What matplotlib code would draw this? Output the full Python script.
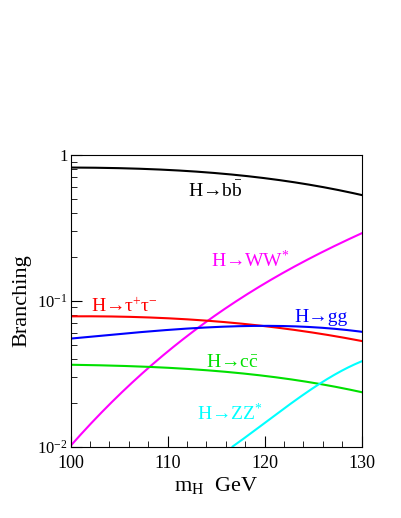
import matplotlib
matplotlib.use("Agg")
import matplotlib.pyplot as plt
import numpy as np

plt.rcParams['font.family'] = ['Liberation Serif', 'DejaVu Serif']
plt.rcParams['mathtext.fontset'] = 'custom'
plt.rcParams['mathtext.rm'] = 'Liberation Serif'
plt.rcParams['mathtext.it'] = 'Liberation Serif:italic'

bb_x = [100, 105, 110, 115, 120, 125, 130]
bb_y = [0.819, 0.81, 0.79, 0.75, 0.69, 0.62, 0.53]
ww_x = [100, 104, 108.3, 114, 120, 125, 130]
ww_y = [0.010, 0.020, 0.035, 0.072, 0.132, 0.20, 0.29]
tt_x = [100, 105, 110, 114, 120, 125, 130]
tt_y = [0.078, 0.0778, 0.0767, 0.072, 0.0667, 0.061, 0.0527]
gg_x = [100, 105, 110, 115, 120, 125, 130]
gg_y = [0.055, 0.059, 0.063, 0.066, 0.0675, 0.0655, 0.0613]
cc_x = [100, 105, 110, 115, 120, 125, 130]
cc_y = [0.0364, 0.0357, 0.0347, 0.0330, 0.0305, 0.0273, 0.0236]
zz_x = [116.7, 120, 125, 130]
zz_y = [0.010, 0.0145, 0.0252, 0.0384]

fig = plt.figure(figsize=(4.01, 5.18), dpi=100)
ax = fig.add_axes([0.176, 0.138, 0.726, 0.563])

def smooth(x, y):
    xs = np.linspace(x[0], x[-1], 200)
    c = np.polyfit(x, np.log(y), min(3, len(x) - 1))
    return xs, np.exp(np.polyval(c, xs))

for x, y, col in [(bb_x, bb_y, 'black'), (ww_x, ww_y, '#ff00ff'), (tt_x, tt_y, 'red'),
                  (gg_x, gg_y, '#0000ff'), (cc_x, cc_y, '#00e000'), (zz_x, zz_y, '#00ffff')]:
    xs, ys = smooth(x, y)
    ax.plot(xs, ys, color=col, lw=1.5)

ax.set_yscale('log')
ax.set_xlim(100, 130)
ax.set_ylim(0.01, 1)
ax.set_xticks([100, 110, 120, 130])
ax.set_xticks(np.arange(100, 131, 2), minor=True)
ax.set_yticks([0.01, 0.1, 1])
ax.set_yticklabels([r'$10^{-2}$', r'$10^{-1}$', '1'])
ax.tick_params(which='both', direction='in', labelsize=13)
ax.tick_params(axis='y', labelsize=12, pad=2)
ax.tick_params(axis='x', pad=6)
ax.tick_params(which='major', length=8)
ax.tick_params(which='minor', length=4)
ax.set_xlabel(r'm$_{\rm H}$  GeV', fontsize=16, labelpad=2)
ax.set_ylabel('Branching', fontsize=16)

fs = 14
ax.text(112.1, 0.515, 'H→b$\\bar{\\rm b}$', fontsize=fs, color='black')
ax.text(114.5, 0.171, 'H→WW$^{*}$', fontsize=fs, color='#ff00ff')
ax.text(102.1, 0.083, 'H→τ$^{+}$τ$^{-}$', fontsize=fs, color='red')
ax.text(123.1, 0.071, 'H→gg', fontsize=fs, color='#0000ff')
ax.text(114.0, 0.0349, 'H→c$\\bar{\\rm c}$', fontsize=fs, color='#00e000')
ax.text(113.0, 0.0151, 'H→ZZ$^{*}$', fontsize=fs, color='#00ffff')

fig.savefig('out.png', dpi=100)
